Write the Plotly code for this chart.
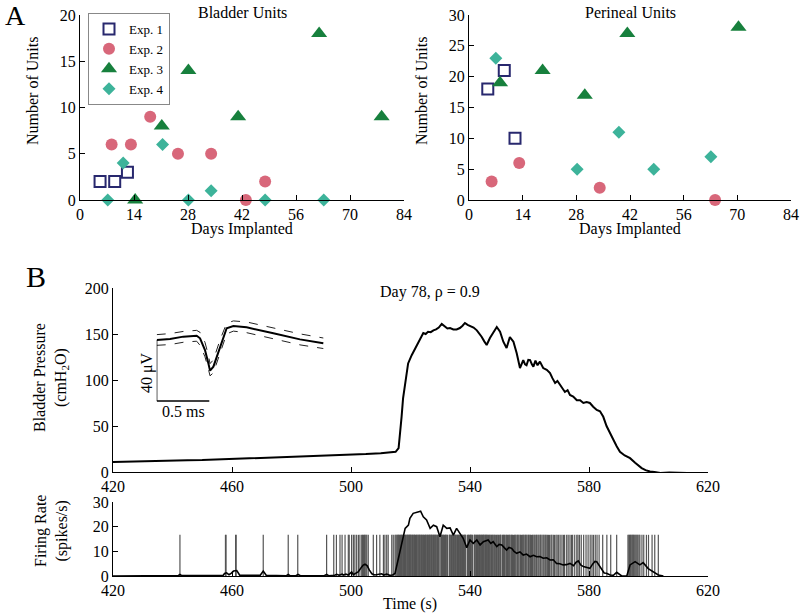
import plotly.graph_objects as go

# ---------------- Panel A data ----------------
exp_names = ["Exp. 1", "Exp. 2", "Exp. 3", "Exp. 4"]

bladder_days = {
    "Exp. 1": [5.2, 9.0, 12.3],
    "Exp. 2": [8.2, 13.2, 18.2, 25.4, 34.0, 43.0, 48.0],
    "Exp. 3": [14.3, 21.2, 28.1, 41.0, 62.0, 78.2],
    "Exp. 4": [7.2, 11.2, 21.4, 28.1, 34.0, 48.0, 63.2],
}
bladder_units = {
    "Exp. 1": [2, 2, 3],
    "Exp. 2": [6, 6, 9, 5, 5, 0, 2],
    "Exp. 3": [0, 8, 14, 9, 18, 9],
    "Exp. 4": [0, 4, 6, 0, 1, 0, 0],
}
perineal_days = {
    "Exp. 1": [4.9, 9.2, 12.0],
    "Exp. 2": [5.9, 13.1, 34.1, 64.2],
    "Exp. 3": [8.1, 19.2, 30.2, 41.3, 70.3],
    "Exp. 4": [7.0, 28.2, 39.1, 48.2, 63.1],
}
perineal_units = {
    "Exp. 1": [18, 21, 10],
    "Exp. 2": [3, 6, 2, 0],
    "Exp. 3": [19, 21, 17, 27, 28],
    "Exp. 4": [23, 5, 11, 5, 7],
}
day_ticks = [0, 14, 28, 42, 56, 70, 84]

# ---------------- Panel B data ----------------
pressure_t = [420, 425, 430, 435, 440, 445, 450, 455, 460, 465, 470, 475, 480, 485, 490, 495, 500,
              505, 510, 513, 515, 516, 516.5, 517, 517.5,
              518.2, 519.2, 520.4, 521.2, 522.1, 523.2, 524.3, 525.1, 525.9, 526.8, 527.7, 528.6, 529.5,
              530.5, 531.6, 532.4, 533.3, 534.4, 535.5, 536.6, 537.5, 538.3, 539.2, 540, 541.2, 542.3,
              543.1, 543.9, 544.8, 545.6, 546.7, 547.8, 549, 550.1, 551.2, 552.3, 553.4, 554.6, 555.7,
              556.8, 557.9, 558.5, 559, 559.6, 560.2, 560.8, 561.3, 562, 562.7, 563.5, 564.6, 565.8,
              566.9, 567.7, 568.6, 569.4, 570.3, 571.1, 571.9, 572.8, 573.6, 574.7, 575.9, 577, 578.1,
              579.2, 580.3, 581.4, 582.6, 583.7, 584.8, 585.9, 587.1, 588.2, 589.3, 590.4, 592, 593.8,
              595.5, 596.5, 597.7, 599, 600.5, 602, 604, 607, 610, 613]
pressure_v = [11, 11.5, 12, 12.2, 12.5, 12.8, 13, 13.6, 14, 14.5, 15, 15.5, 16, 16.8, 17.5, 18, 18.5,
              19.5, 20.5, 21.5, 22, 26, 40, 60, 80,
              97, 118, 127, 132, 138, 145, 151, 150, 152.5, 152, 154, 155, 157,
              161, 158, 156, 156.5, 155, 155, 156.5, 159, 162, 160, 158.7, 157, 154,
              151, 147, 142, 138, 145.6, 152, 157.6, 152.5, 141.6, 134.8, 146.7, 141.6, 129,
              113, 121.7, 117, 116, 122, 121.7, 117, 114.5, 121, 116, 120, 113, 111,
              107.6, 102, 96.7, 99, 94.6, 91, 87, 89, 83.7, 82, 78, 78, 75,
              76, 75, 71, 67.4, 66, 60, 50, 43, 35, 28, 22, 18, 15,
              10, 7, 4.3, 2, 0.5, 0, -1, -0.5, -1, -1]

rate_t = [420, 440, 442, 442.5, 443, 457, 457.5, 458.2, 459, 459.8, 460.5, 461.6, 462.6, 469.5, 470.5,
          471.5, 478.3, 478.9, 479.5, 481.5, 482.2, 483, 491, 491.8, 492.5, 494.5, 495.2, 496, 497,
          497.5, 498.3, 499, 499.6, 500.2, 500.8, 501.5, 502.5, 503.3, 504, 504.7, 505.4, 506.2, 507,
          508, 509, 510.3, 511, 512, 513, 514, 514.8, 515.9, 517, 518.2, 519.3, 519.8, 520.9, 522.3,
          523.4, 524.3, 525.4, 526.6, 527.7, 528.8, 529.9, 531, 532.2, 533.3, 534.4, 535.5, 536.6,
          537.7, 538.9, 540, 541.1, 542.3, 543.4, 544.5, 546.1, 547, 547.8, 549, 549.8, 550.7, 551.5,
          552.3, 553.1, 554, 554.8, 555.7, 556.8, 557.9, 559, 560.2, 561.3, 562.4, 563.5, 564.6,
          565.8, 566.9, 568, 569.1, 570.2, 571.3, 572.4, 573.6, 574.8, 575.6, 576.4, 577.2, 578.1,
          579.2, 580.3, 581.2, 582, 582.6, 583.5, 584.3, 585.1, 585.9, 587.1, 588.2, 589.3, 591,
          592.7, 593.8, 595.5, 597.1, 598.2, 599.9, 601.6, 603.3, 605]
rate_v = [0, 0, 0.2, 0.6, 0.2, 0.2, 1.0, 1.3, 0.5, 1.2, 2.0, 2.2, 0.3, 0.3, 2.0,
          0.3, 0.1, 0.6, 0.1, 0.1, 0.6, 0.1, 0.1, 0.6, 0.1, 0.3, 0.7, 0.3, 0.8,
          0.4, 0.8, 0.4, 0.9, 1.6, 0.5, 0.9, 1.8, 3.2, 4.3, 4.8, 4.2, 2.4, 0.9,
          0.4, 0.6, 0.9, 0.4, 0.8, 0.3, 0.4, 1.0, 7, 12.6, 19.3, 20.6, 23.4, 25.4, 26,
          26.3, 24, 22.7, 19.3, 20.6, 20, 15.9, 20.6, 19.3, 19.5, 16.6, 19.3, 17.3,
          15.3, 11.5, 14.6, 13.2, 14.6, 12.6, 13.9, 14.6, 13.2, 13.9, 11.9, 12.8, 12.6, 11.5,
          10.5, 11.6, 11.2, 10, 9.2, 9.8, 8.5, 8.9, 7.8, 8.4, 7.8, 7.9, 7.2,
          7.4, 6.5, 6.6, 5.1, 5.0, 4.5, 4.6, 5.1, 4.2, 5.5, 6.1, 4.5, 3.8,
          3.6, 3.1, 4.8, 5.9, 5.8, 4.2, 2.4, 1.2, 1.1, 0.4, 0.3, 1.5, 0,
          0, 4.5, 5.8, 4.5, 5.4, 3.0, 1.6, 0.4, 0]

spike_times = [
    442.5, 457.8, 458.0, 461.2, 461.4, 470.5, 478.9, 482.1, 491.8, 494.2, 495.1, 496.3, 497.0, 498.0,
    499.1, 499.4, 500.2, 500.8, 501.3, 501.9, 502.5, 503.0, 503.6, 503.9, 504.2, 504.5, 504.7, 505.0,
    505.3, 505.8, 507.5, 508.6, 509.7, 510.9, 511.4, 512.0, 512.5, 513.7, 514.2, 514.8, 515.1, 515.4,
    515.7, 515.9, 516.1, 516.3, 516.6, 516.8, 517.0, 517.1, 517.4, 517.6, 517.7, 518.0, 518.2, 518.3,
    518.5, 518.8, 518.9, 519.1, 519.4, 519.5, 519.7, 519.9, 520.1, 520.2, 520.5, 520.7, 520.8, 521.1,
    521.3, 521.4, 521.7, 521.9, 522.0, 522.2, 522.5, 522.6, 522.9, 523.1, 523.2, 523.5, 523.7, 523.8,
    524.1, 524.3, 524.4, 524.7, 524.9, 525.1, 525.2, 525.5, 525.7, 525.8, 526.1, 526.3, 526.5, 526.6,
    526.9, 527.1, 527.2, 527.5, 527.7, 527.9, 528.0, 528.3, 528.5, 528.6, 528.9, 529.1, 529.3, 529.5,
    529.6, 530.2, 530.4, 530.5, 530.8, 531.0, 531.1, 531.4, 531.6, 531.8, 531.9, 532.2, 532.4, 533.0,
    533.2, 533.3, 533.6, 533.8, 533.9, 534.2, 534.4, 534.6, 534.7, 535.0, 535.2, 535.3, 535.6, 535.8,
    536.0, 536.1, 536.4, 536.6, 536.8, 536.9, 537.2, 537.4, 537.5, 537.8, 538.0, 538.2, 538.4, 538.6,
    539.2, 539.4, 539.5, 539.8, 540.0, 540.2, 540.3, 540.6, 540.8, 541.4, 541.6, 541.7, 542.0, 542.2,
    542.4, 542.5, 542.8, 543.0, 543.2, 543.3, 543.6, 543.8, 544.0, 544.2, 544.4, 544.6, 544.7, 545.0,
    545.2, 545.4, 545.5, 545.8,
    546.0, 546.2, 546.5, 546.7, 547.0, 547.2, 547.5, 547.7, 548.0, 548.3, 548.5, 548.9, 549.1, 549.4,
    549.6, 550.0, 550.2, 550.4, 550.9, 551.1, 551.3, 551.6, 551.8, 552.2, 552.4, 552.6, 553.0, 553.2,
    553.5, 553.9, 554.1, 554.3, 554.6, 555.0, 555.2, 555.5, 555.9, 556.1, 556.4, 556.8, 557.0, 557.3,
    557.7, 557.9, 558.2, 558.6, 558.8, 559.1, 559.5, 559.7, 560.1, 560.3, 560.7, 561.0, 561.2, 561.6,
    561.9, 562.3, 562.5, 562.9, 563.2, 563.6, 563.8, 564.2, 564.6, 564.9, 565.3, 565.6, 566.0, 566.4,
    566.7, 567.2, 567.5, 568.0, 568.4, 568.9, 569.3, 569.8, 570.3, 570.9, 571.4, 571.8, 572.5, 573.0,
    573.6, 574.1, 574.5, 575.2, 575.9, 576.3, 576.8, 577.4, 578.2, 579.0, 579.7, 580.4, 581.0, 581.5,
    582.1, 582.7, 583.4, 584.6, 586.0, 587.3, 589.3, 593.1, 593.4, 593.6, 593.9, 594.1, 594.4, 594.7,
    594.9, 595.2, 595.5, 595.8, 596.1, 596.4, 596.8, 597.1, 597.8, 598.4, 599.3, 600.0, 601.2, 602.1,
    603.3]
raster_height = 16.7

# Inset spike waveform (ms, µV)
wave_ms = [0, 0.127, 0.253, 0.380, 0.412, 0.459, 0.491, 0.507, 0.539, 0.602, 0.665, 0.729, 0.855,
           1.109, 1.362, 1.584]
wave_mean = [0, 0.66, 2.2, 2.8, 1.1, -6.6, -15.3, -20.1, -17.5, -4.4, 7.7, 9.2, 8.3, 4.4, 0.4, -2.2]
wave_upper = [3.5, 4.2, 5.6, 6.3, 5.0, -1.5, -10, -15.5, -13, 0, 11, 12.5, 11.8, 8, 4, 1.3]
wave_lower = [-3.5, -3, -1.5, -0.8, -3.5, -11, -19, -23.5, -21.5, -9, 4, 5.8, 4.8, 0.8, -3.2, -5.6]

time_ticks = [420, 460, 500, 540, 580, 620]

# ---------------- Styles ----------------
FONT = "Liberation Serif"
W, H = 800, 615
styles = {
    "Exp. 1": dict(symbol="square-open", size=11, color="#28286e", line=dict(width=2, color="#28286e")),
    "Exp. 2": dict(symbol="circle", size=12, color="#d8677a", line=dict(width=0)),
    "Exp. 3": dict(symbol="triangle-up", size=14, color="#17803d", line=dict(width=0)),
    "Exp. 4": dict(symbol="diamond", size=10, color="#3db39a", line=dict(width=0)),
}

fig = go.Figure()

for name in exp_names:
    fig.add_trace(go.Scatter(x=bladder_days[name], y=bladder_units[name], mode="markers",
                             marker=styles[name], name=name, cliponaxis=False,
                             xaxis="x", yaxis="y", legendgroup=name))
for name in exp_names:
    fig.add_trace(go.Scatter(x=perineal_days[name], y=perineal_units[name], mode="markers",
                             marker=styles[name], name=name, cliponaxis=False, showlegend=False,
                             xaxis="x2", yaxis="y2", legendgroup=name))

fig.add_trace(go.Scatter(x=pressure_t, y=pressure_v, mode="lines", line=dict(color="black", width=2),
                         showlegend=False, xaxis="x3", yaxis="y3"))

# raster
rx, ry = [], []
for s in spike_times:
    rx += [s, s, None]
    ry += [0, raster_height, None]
fig.add_trace(go.Scatter(x=rx, y=ry, mode="lines", line=dict(color="#555555", width=1.2),
                         showlegend=False, xaxis="x4", yaxis="y4"))
fig.add_trace(go.Scatter(x=rate_t, y=rate_v, mode="lines", line=dict(color="black", width=1.6),
                         showlegend=False, xaxis="x4", yaxis="y4"))

# inset
fig.add_trace(go.Scatter(x=wave_ms, y=wave_upper, mode="lines", line=dict(color="#222", width=1, dash="dash"),
                         showlegend=False, xaxis="x5", yaxis="y5"))
fig.add_trace(go.Scatter(x=wave_ms, y=wave_lower, mode="lines", line=dict(color="#222", width=1, dash="dash"),
                         showlegend=False, xaxis="x5", yaxis="y5"))
fig.add_trace(go.Scatter(x=wave_ms, y=wave_mean, mode="lines", line=dict(color="black", width=2),
                         showlegend=False, xaxis="x5", yaxis="y5"))


def px_x(p):
    return p / W


def px_y(p):
    return 1 - p / H


axis_common = dict(showline=True, linecolor="black", linewidth=1.2, ticks="inside", ticklen=5,
                   tickcolor="black", showgrid=False, zeroline=False, automargin=False,
                   tickfont=dict(family=FONT, size=16, color="black"), mirror=False)

fig.update_layout(
    width=W, height=H, margin=dict(l=0, r=0, t=0, b=0, pad=0, autoexpand=False),
    paper_bgcolor="white", plot_bgcolor="white",
    font=dict(family=FONT, size=16, color="black"),
    xaxis=dict(domain=[px_x(80), px_x(404)], range=[0, 84], tickvals=day_ticks, anchor="y", **axis_common),
    yaxis=dict(domain=[px_y(200), px_y(15)], range=[0, 20], dtick=5, anchor="x", **axis_common),
    xaxis2=dict(domain=[px_x(469), px_x(791)], range=[0, 84], tickvals=day_ticks, anchor="y2", **axis_common),
    yaxis2=dict(domain=[px_y(200), px_y(15)], range=[0, 30], dtick=5, anchor="x2", **axis_common),
    xaxis3=dict(domain=[px_x(113), px_x(708)], range=[420, 620], tickvals=time_ticks, anchor="y3", **axis_common),
    yaxis3=dict(domain=[px_y(472), px_y(288)], range=[0, 200], dtick=50, anchor="x3", **axis_common),
    xaxis4=dict(domain=[px_x(113), px_x(708)], range=[420, 620], tickvals=time_ticks, anchor="y4", **axis_common),
    yaxis4=dict(domain=[px_y(576), px_y(502)], range=[0, 30], dtick=10, anchor="x4", **axis_common),
    xaxis5=dict(domain=[px_x(156.7), px_x(325)], range=[0, 1.6], visible=False, anchor="y5"),
    yaxis5=dict(domain=[px_y(410), px_y(320)], range=[-45.9, 13.1], visible=False, anchor="x5"),
    legend=dict(x=px_x(88), y=px_y(13), xanchor="left", yanchor="top", bgcolor="white",
                bordercolor="#888", borderwidth=1, font=dict(family=FONT, size=13, color="black"),
                itemwidth=30, tracegroupgap=0),
)

# scale bars in inset
fig.add_shape(type="line", xref="x5", yref="y5", x0=0, x1=0, y0=0, y1=-40, line=dict(color="black", width=1.3))
fig.add_shape(type="line", xref="x5", yref="y5", x0=0, x1=0.5, y0=-40, y1=-40, line=dict(color="black", width=1.3))


def ann(text, x, y, size=16, angle=0, **kw):
    fig.add_annotation(text=text, x=px_x(x), y=px_y(y), xref="paper", yref="paper", showarrow=False,
                       textangle=angle, font=dict(family=FONT, size=size, color="black"),
                       xanchor="center", yanchor="middle", **kw)


ann("A", 15, 16, size=28)
ann("B", 36, 276, size=30)
ann("Bladder Units", 242, 13, size=16)
ann("Perineal Units", 630, 13, size=16)
ann("Number of Units", 33, 91, angle=-90)
ann("Number of Units", 422, 91, angle=-90)
ann("Days Implanted", 242, 229)
ann("Days Implanted", 630, 229)
ann("Day 78, ρ = 0.9", 430, 292)
ann("Bladder Pressure<br>(cmH<sub>2</sub>O)", 51, 378, angle=-90)
ann("Firing Rate<br>(spikes/s)", 51, 531, angle=-90)
ann("Time (s)", 410, 604)
ann("40 μV", 147, 373, angle=-90)
ann("0.5 ms", 183, 411)

# the page body has a default 8px margin; remove it so the figure fills the window exactly
fig.write_html("out.html", config={"displayModeBar": False},
               post_script="document.body.style.margin='0px';")
